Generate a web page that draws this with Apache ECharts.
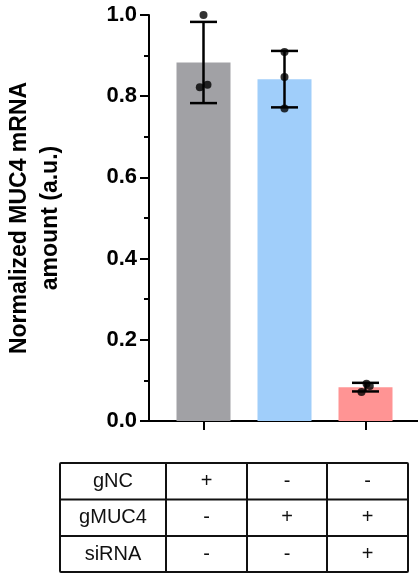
<!DOCTYPE html>
<html>
<head>
<meta charset="utf-8">
<script src="https://cdn.jsdelivr.net/npm/echarts@6/dist/echarts.min.js"></script>
<style>
html,body{margin:0;padding:0;background:#fff;}
#chart{width:418px;height:573px;}
</style>
</head>
<body>
<div id="chart"></div>
<script>
// ---- data ----
const groups = ['gNC', 'gMUC4', 'gMUC4 + siRNA'];
const means = [0.883, 0.842, 0.0834];
const sds = [0.100, 0.0695, 0.0106];
const replicates = [
  [1.000, 0.822, 0.828],
  [0.909, 0.847, 0.770],
  [0.092, 0.086, 0.0715]
];
const yTicks = [0, 0.2, 0.4, 0.6, 0.8, 1.0];
const tableRows = ['gNC', 'gMUC4', 'siRNA'];
const tableSigns = [
  ['+', '-', '-'],
  ['-', '+', '+'],
  ['-', '-', '+']
];

// ---- styling / layout (not data) ----
const barColors = ['#A1A1A5', '#A0CEFA', '#FF9494'];
const dotJitterPx = [[0, -3.7, 4], [0, 0, 0], [1, 4.3, -4]];
const FONT = 'Liberation Sans';
const PLOT_TOP = 15, PLOT_BOTTOM = 152, AXIS_X = 149, BAR_LEFT = 163, BAR_RIGHT = 12;

const chart = echarts.init(document.getElementById('chart'), null, {renderer: 'canvas'});

const scatterData = [];
replicates.forEach((arr, i) => arr.forEach((v, j) => {
  scatterData.push({value: [i, v], symbolOffset: [dotJitterPx[i][j], 0]});
}));

// table graphic
const colX = [60, 166, 247, 327, 408];
const rowY = [463, 499.5, 536, 572];
const graphics = [];
graphics.push({type: 'rect', shape: {x: colX[0], y: rowY[0], width: colX[4] - colX[0], height: rowY[3] - rowY[0], r: 1},
  style: {fill: 'none', stroke: '#111', lineWidth: 2}});
for (let k = 1; k < 4; k++) {
  graphics.push({type: 'line', shape: {x1: colX[k], y1: rowY[0], x2: colX[k], y2: rowY[3]}, style: {stroke: '#111', lineWidth: 2}});
}
for (let k = 1; k < 3; k++) {
  graphics.push({type: 'line', shape: {x1: colX[0], y1: rowY[k], x2: colX[4], y2: rowY[k]}, style: {stroke: '#111', lineWidth: 2}});
}
tableRows.forEach((name, r) => {
  const cy = (rowY[r] + rowY[r + 1]) / 2;
  graphics.push({type: 'text', x: (colX[0] + colX[1]) / 2, y: cy,
    style: {text: name, font: '20px "Liberation Sans"', fill: '#111', align: 'center', verticalAlign: 'middle'}});
  tableSigns[r].forEach((s, c) => {
    graphics.push({type: 'text', x: (colX[c + 1] + colX[c + 2]) / 2, y: cy,
      style: {text: s, font: '20px "Liberation Sans"', fill: '#111', align: 'center', verticalAlign: 'middle'}});
  });
});

const option = {
  animation: false,
  backgroundColor: '#fff',
  grid: [
    {left: BAR_LEFT, right: BAR_RIGHT, top: PLOT_TOP, bottom: PLOT_BOTTOM, containLabel: false, outerBoundsMode: 'none'},
    {left: AXIS_X - 1, right: 0, top: PLOT_TOP, bottom: PLOT_BOTTOM, containLabel: false, outerBoundsMode: 'none'}
  ],
  xAxis: [
    {type: 'category', gridIndex: 0, data: groups,
      axisLine: {show: false},
      axisTick: {show: true, alignWithLabel: true, length: 9, lineStyle: {color: '#000', width: 2}},
      axisLabel: {show: false}, splitLine: {show: false}},
    {type: 'value', gridIndex: 1, min: 0, max: 1,
      axisLine: {show: true, onZero: false, lineStyle: {color: '#000', width: 2}},
      axisTick: {show: false}, axisLabel: {show: false}, splitLine: {show: false}}
  ],
  yAxis: [
    {type: 'value', gridIndex: 0, min: yTicks[0], max: yTicks[yTicks.length - 1], interval: 0.2,
      offset: BAR_LEFT - AXIS_X,
      name: 'Normalized MUC4 mRNA\namount (a.u.)', nameLocation: 'middle', nameGap: 83,
      nameTextStyle: {fontFamily: FONT, fontWeight: 'bold', fontSize: 23, lineHeight: 31, color: '#000', align: 'center'},
      axisLine: {show: true, lineStyle: {color: '#000', width: 2}},
      axisTick: {show: true, length: 9, lineStyle: {color: '#000', width: 2}},
      minorTick: {show: true, splitNumber: 2, length: 5, lineStyle: {color: '#000', width: 2}},
      axisLabel: {fontFamily: FONT, fontWeight: 'bold', fontSize: 22, color: '#000', margin: 12,
        formatter: v => v.toFixed(1)},
      splitLine: {show: false}},
    {type: 'value', gridIndex: 1, min: 0, max: 1, show: false}
  ],
  series: [
    {type: 'bar', xAxisIndex: 0, yAxisIndex: 0, barWidth: 54,
      data: means.map((v, i) => ({value: v, itemStyle: {color: barColors[i]}})), z: 1},
    {type: 'custom', xAxisIndex: 0, yAxisIndex: 0, z: 3,
      data: means.map((m, i) => [i, m - sds[i], m + sds[i]]),
      renderItem: function (params, api) {
        const x = api.value(0);
        const lo = api.coord([x, api.value(1)]);
        const hi = api.coord([x, api.value(2)]);
        const hw = 13.5;
        const st = {stroke: '#000', lineWidth: 2.5};
        return {type: 'group', children: [
          {type: 'line', shape: {x1: lo[0], y1: lo[1], x2: hi[0], y2: hi[1]}, style: st},
          {type: 'line', shape: {x1: lo[0] - hw, y1: lo[1], x2: lo[0] + hw, y2: lo[1]}, style: st},
          {type: 'line', shape: {x1: hi[0] - hw, y1: hi[1], x2: hi[0] + hw, y2: hi[1]}, style: st}
        ]};
      }},
    {type: 'scatter', xAxisIndex: 0, yAxisIndex: 0, z: 4, symbol: 'circle', symbolSize: 8,
      itemStyle: {color: '#000'}, data: scatterData}
  ],
  graphic: graphics
};
chart.setOption(option);
</script>
</body>
</html>
